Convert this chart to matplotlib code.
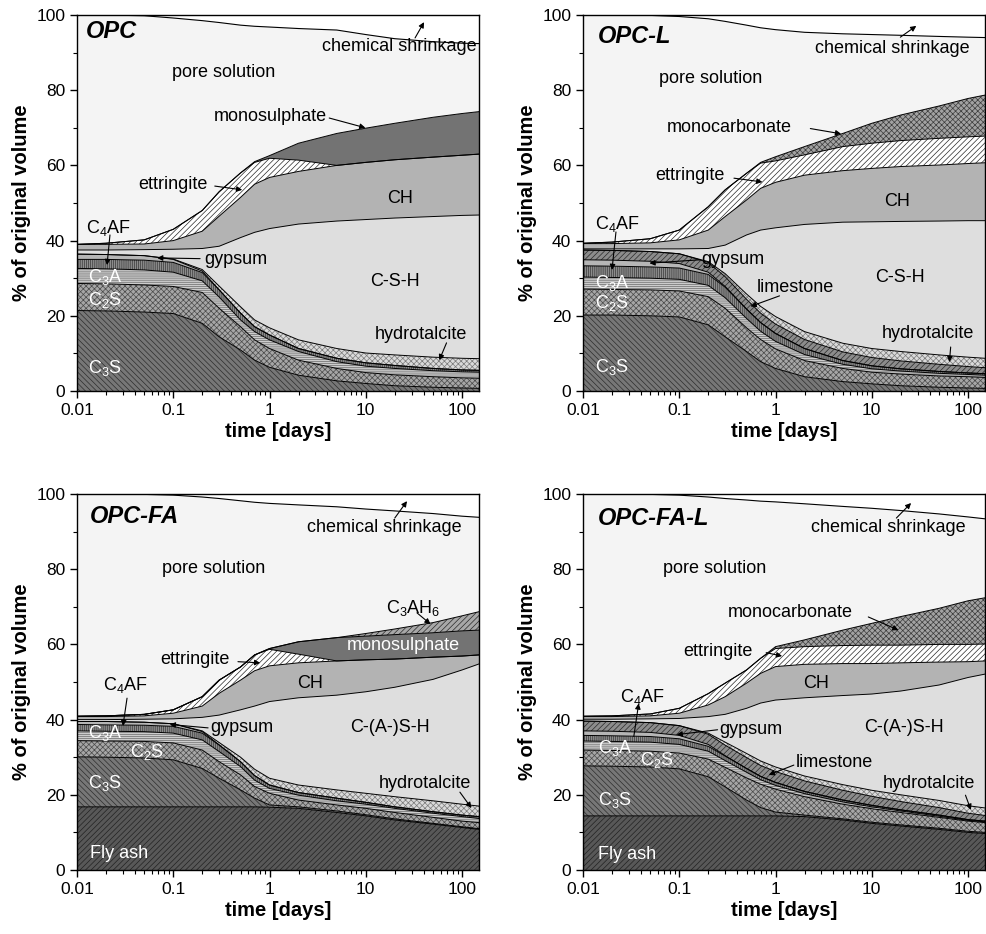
import numpy as np
import matplotlib
matplotlib.use("Agg")
import matplotlib.pyplot as plt
from matplotlib.ticker import FuncFormatter, LogLocator, MultipleLocator, NullFormatter

plt.rcParams['font.family'] = ['Liberation Sans', 'DejaVu Sans']
plt.rcParams['mathtext.fontset'] = 'custom'
plt.rcParams['mathtext.rm'] = 'Liberation Sans'
plt.rcParams['mathtext.it'] = 'Liberation Sans:italic'
plt.rcParams['mathtext.bf'] = 'Liberation Sans:bold'
plt.rcParams['hatch.linewidth'] = 0.5

# hydration time (days) at which the phase boundaries were read
time_days = [0.01, 0.02, 0.05, 0.1, 0.2, 0.3, 0.5, 0.7, 1, 2, 5, 10, 20, 50, 100, 150]

# upper edge of each phase in the stack, % of original volume
# --- OPC
opc_c3s = [21.4, 21.3, 21.0, 20.6, 18.0, 14.4, 10.9, 8.2, 6.3, 4.2, 2.7, 2.0, 1.4, 1.0, 0.8, 0.7]
opc_c2s = [28.6, 28.5, 28.2, 27.8, 26.2, 22.0, 17.1, 13.6, 11.3, 8.2, 6.0, 4.9, 4.3, 3.8, 3.5, 3.4]
opc_c3a = [32.6, 32.5, 32.2, 31.6, 29.3, 25.0, 18.9, 15.8, 13.6, 10.5, 7.8, 6.6, 6.0, 5.4, 5.1, 5.0]
opc_c4af = [35.0, 35.0, 34.8, 34.2, 31.5, 26.9, 20.7, 17.1, 14.9, 11.3, 8.7, 7.5, 6.8, 6.0, 5.6, 5.5]
opc_gypsum = [36.4, 36.3, 36.0, 35.0, 31.9, 26.9, 20.7, 17.1, 14.9, 11.3, 8.7, 7.5, 6.8, 6.0, 5.6, 5.5]
opc_htc = [36.4, 36.3, 36.0, 35.1, 32.3, 27.9, 22.4, 18.9, 16.8, 13.6, 11.3, 10.1, 9.6, 9.0, 8.7, 8.6]
opc_csh = [37.5, 37.5, 37.6, 37.7, 37.9, 38.5, 40.8, 42.2, 43.2, 44.4, 45.2, 45.6, 46.0, 46.4, 46.7, 46.8]
opc_ch = [39.0, 39.0, 39.1, 40.0, 42.5, 46.5, 51.5, 55.0, 56.8, 58.4, 60.0, 60.8, 61.5, 62.2, 62.7, 63.0]
opc_ett = [39.0, 39.3, 40.2, 43.0, 48.0, 53.0, 58.0, 60.8, 61.9, 61.4, 60.0, 60.8, 61.5, 62.2, 62.7, 63.0]
opc_ms = [39.0, 39.3, 40.2, 43.0, 48.0, 53.0, 58.0, 61.0, 62.6, 65.9, 68.5, 69.9, 71.2, 72.8, 73.8, 74.3]
opc_pore = [100, 100, 99.8, 99.2, 98.5, 98.0, 97.3, 97.0, 96.8, 96.4, 96.0, 94.8, 93.7, 92.9, 92.5, 92.4]

# --- OPC-L
opcl_c3s = [20.2, 20.2, 20.0, 19.7, 17.6, 14.4, 10.5, 7.8, 6.0, 3.8, 2.5, 1.9, 1.4, 1.0, 0.8, 0.7]
opcl_c2s = [27.1, 27.0, 26.9, 26.6, 25.1, 22.0, 16.8, 13.7, 11.2, 8.1, 6.0, 5.0, 4.5, 4.0, 3.8, 3.6]
opcl_c3a = [30.3, 30.2, 30.0, 29.7, 28.1, 24.8, 19.3, 15.9, 13.2, 9.7, 7.1, 5.9, 5.3, 4.7, 4.4, 4.2]
opcl_c4af = [33.3, 33.2, 33.0, 32.7, 31.0, 27.6, 21.8, 18.2, 15.3, 11.3, 8.1, 6.7, 5.9, 5.2, 4.8, 4.6]
opcl_gypsum = [34.9, 34.8, 34.5, 33.9, 31.6, 27.8, 21.8, 18.2, 15.3, 11.3, 8.1, 6.7, 5.9, 5.2, 4.8, 4.6]
opcl_limestone = [37.5, 37.4, 37.1, 36.5, 34.2, 30.4, 24.4, 20.7, 17.8, 13.7, 10.4, 8.9, 8.0, 7.1, 6.5, 6.2]
opcl_htc = [37.5, 37.4, 37.1, 36.5, 34.4, 31.2, 25.8, 22.5, 19.8, 15.8, 12.7, 11.3, 10.5, 9.6, 9.0, 8.7]
opcl_csh = [37.8, 37.8, 37.8, 37.8, 37.9, 38.8, 41.5, 42.8, 43.4, 44.3, 44.9, 45.0, 45.1, 45.2, 45.3, 45.3]
opcl_ch = [39.2, 39.2, 39.4, 40.2, 42.8, 46.4, 50.8, 53.9, 55.5, 57.4, 58.6, 59.2, 59.7, 60.1, 60.5, 60.7]
opcl_ett = [39.3, 39.6, 40.5, 42.8, 49.0, 53.5, 57.9, 60.6, 61.2, 62.8, 65.0, 65.9, 66.6, 67.2, 67.6, 67.8]
opcl_mc = [39.3, 39.6, 40.5, 42.8, 49.0, 53.5, 57.9, 60.8, 62.3, 65.0, 68.5, 71.2, 73.4, 75.8, 77.8, 78.7]
opcl_pore = [100, 100, 99.9, 99.6, 99.0, 98.3, 97.3, 96.6, 96.1, 95.4, 95.0, 94.8, 94.6, 94.3, 94.1, 94.0]

# --- OPC-FA
opcfa_flyash = [16.8, 16.8, 16.8, 16.8, 16.8, 16.8, 16.8, 16.8, 16.7, 16.4, 15.3, 14.4, 13.3, 12.2, 11.3, 10.8]
opcfa_c3s = [30.1, 30.0, 29.8, 29.3, 27.0, 24.4, 21.3, 19.1, 17.3, 16.8, 15.7, 14.7, 13.6, 12.4, 11.5, 11.0]
opcfa_c2s = [34.4, 34.3, 34.2, 33.8, 31.9, 28.8, 25.3, 22.2, 20.4, 18.6, 17.3, 16.4, 15.3, 14.0, 13.0, 12.6]
opcfa_c3a = [37.0, 36.9, 36.8, 36.4, 34.6, 31.5, 27.5, 23.9, 21.7, 19.9, 18.4, 17.5, 16.4, 15.1, 14.2, 13.7]
opcfa_c4af = [38.7, 38.6, 38.5, 38.2, 36.4, 33.2, 28.8, 25.1, 22.6, 20.6, 19.1, 18.0, 16.8, 15.5, 14.6, 14.2]
opcfa_gypsum = [39.5, 39.5, 39.3, 38.9, 36.8, 33.3, 28.8, 25.1, 22.6, 20.6, 19.1, 18.0, 16.8, 15.5, 14.6, 14.2]
opcfa_htc = [39.5, 39.5, 39.3, 38.9, 37.0, 33.9, 30.0, 26.8, 24.4, 22.6, 21.3, 20.4, 19.5, 18.4, 17.5, 17.0]
opcfa_csh = [40.0, 40.0, 40.1, 40.2, 40.6, 41.2, 42.6, 43.6, 44.8, 45.8, 46.5, 47.4, 48.6, 50.7, 53.2, 54.8]
opcfa_ch = [40.8, 40.8, 41.0, 41.7, 43.6, 47.0, 50.5, 53.0, 54.3, 55.1, 55.6, 55.9, 56.1, 56.6, 56.9, 57.2]
opcfa_ett = [40.9, 41.0, 41.4, 42.6, 46.1, 50.5, 54.0, 57.2, 58.7, 57.4, 55.6, 55.9, 56.1, 56.6, 56.9, 57.2]
opcfa_ms = [40.9, 41.0, 41.4, 42.6, 46.1, 50.5, 54.0, 57.2, 58.9, 60.7, 61.8, 62.2, 62.6, 63.1, 63.6, 63.8]
opcfa_c3ah6 = [40.9, 41.0, 41.4, 42.6, 46.1, 50.5, 54.0, 57.2, 58.9, 60.7, 61.8, 62.9, 64.1, 65.8, 67.6, 68.7]
opcfa_pore = [100, 100, 99.9, 99.7, 99.2, 98.8, 98.2, 97.8, 97.5, 97.1, 96.6, 96.0, 95.5, 94.8, 94.1, 93.8]

# --- OPC-FA-L
opcfal_flyash = [14.4, 14.4, 14.4, 14.4, 14.4, 14.4, 14.4, 14.4, 14.4, 14.2, 13.3, 12.4, 11.7, 10.8, 10.0, 9.7]
opcfal_c3s = [27.7, 27.6, 27.4, 26.9, 24.8, 22.1, 18.6, 16.6, 15.4, 14.6, 13.6, 12.7, 12.0, 11.1, 10.3, 10.0]
opcfal_c2s = [31.9, 31.8, 31.6, 31.1, 29.5, 27.3, 24.5, 22.8, 21.5, 19.5, 17.5, 16.3, 15.3, 14.0, 13.0, 12.6]
opcfal_c3a = [34.3, 34.2, 34.0, 33.4, 31.6, 29.1, 26.0, 24.0, 22.5, 20.3, 18.1, 16.8, 15.7, 14.3, 13.2, 12.8]
opcfal_c4af = [35.8, 35.7, 35.5, 34.9, 32.9, 30.3, 27.0, 24.9, 23.3, 20.9, 18.6, 17.2, 16.0, 14.6, 13.4, 13.0]
opcfal_gypsum = [37.0, 36.9, 36.6, 35.8, 33.4, 30.4, 27.0, 24.9, 23.3, 20.9, 18.6, 17.2, 16.0, 14.6, 13.4, 13.0]
opcfal_limestone = [39.6, 39.5, 39.2, 38.4, 36.1, 33.2, 29.9, 27.8, 26.2, 23.7, 21.2, 19.6, 18.2, 16.6, 15.1, 14.5]
opcfal_htc = [39.6, 39.5, 39.2, 38.4, 36.4, 34.0, 31.0, 29.0, 27.4, 25.0, 22.7, 21.2, 20.0, 18.5, 17.1, 16.5]
opcfal_csh = [40.1, 40.1, 40.2, 40.3, 40.8, 41.4, 43.0, 44.4, 45.2, 45.8, 46.4, 46.8, 47.6, 49.2, 51.2, 52.1]
opcfal_ch = [40.8, 40.8, 41.0, 41.7, 43.9, 46.1, 49.7, 52.3, 54.1, 54.7, 54.9, 54.9, 55.1, 55.3, 55.4, 55.6]
opcfal_ett = [40.9, 41.0, 41.5, 43.0, 46.9, 49.7, 53.2, 56.3, 58.9, 59.4, 59.7, 59.8, 59.8, 60.0, 60.0, 60.1]
opcfal_mc = [40.9, 41.0, 41.5, 43.0, 46.9, 49.7, 53.2, 56.3, 59.4, 61.2, 63.8, 65.6, 67.4, 69.6, 71.6, 72.4]
opcfal_pore = [100, 100, 99.9, 99.7, 99.2, 98.8, 98.4, 98.1, 97.9, 97.4, 96.7, 96.2, 95.6, 94.7, 93.9, 93.4]

# face colour, hatch, hatch colour
STYLE = {
    'flyash': ('#585858', '//////', '#222222'),
    'c3s': ('#777777', '\\\\\\\\\\\\', '#2e2e2e'),
    'c2s': ('#a6a6a6', 'xxxxxx', '#4a4a4a'),
    'c3a': ('#cccccc', '--------', '#6a6a6a'),
    'c4af': ('#8c8c8c', '||||||||', '#383838'),
    'gypsum': ('#b6b6b6', None, None),
    'limestone': ('#8c8c8c', '//////', '#2a2a2a'),
    'htc': ('#dadada', 'xxxxxx', '#7a7a7a'),
    'csh': ('#dedede', None, None),
    'ch': ('#b3b3b3', None, None),
    'ett': ('#ffffff', '//////', '#2a2a2a'),
    'ms': ('#737373', None, None),
    'mc': ('#a2a2a2', 'xxxxxx', '#3c3c3c'),
    'c3ah6': ('#a8a8a8', '//////', '#2a2a2a'),
}
PORE = '#f4f4f4'


def draw_panel(ax, title, layers, pore, texts, arrows):
    t = np.array(time_days)
    lower = np.zeros(len(t))
    for phase, top in layers:
        top = np.array(top, dtype=float)
        face, hatch, hc = STYLE[phase]
        if hatch:
            ax.fill_between(t, lower, top, facecolor=face, hatch=hatch,
                            edgecolor=hc, linewidth=0, zorder=1)
        else:
            ax.fill_between(t, lower, top, facecolor=face, linewidth=0, zorder=1)
        ax.plot(t, top, color='black', lw=0.7, zorder=3)
        lower = top
    ax.fill_between(t, lower, pore, facecolor=PORE, linewidth=0, zorder=1)
    ax.plot(t, pore, color='black', lw=0.8, zorder=3)

    ax.set_xscale('log')
    ax.set_xlim(0.01, 150)
    ax.set_ylim(0, 100)
    ax.xaxis.set_major_locator(LogLocator(base=10, numticks=10))
    ax.xaxis.set_minor_locator(LogLocator(base=10, subs=np.arange(2, 10), numticks=20))
    ax.xaxis.set_major_formatter(FuncFormatter(lambda v, p: '{:g}'.format(v)))
    ax.xaxis.set_minor_formatter(NullFormatter())
    ax.yaxis.set_major_locator(MultipleLocator(20))
    ax.yaxis.set_minor_locator(MultipleLocator(10))
    ax.tick_params(which='major', direction='out', length=5, width=1, labelsize=12.5)
    ax.tick_params(which='minor', direction='out', length=3, width=0.8)
    for s in ax.spines.values():
        s.set_linewidth(1.0)
        s.set_zorder(5)
    ax.set_xlabel('time [days]', fontsize=14.5, fontweight='bold', labelpad=3)
    ax.set_ylabel('% of original volume', fontsize=14.5, fontweight='bold', labelpad=4)

    ax.text(title[1], title[2], title[0], fontsize=17, fontweight='bold',
            style='italic', ha='left', va='center', zorder=6)
    for txt, x, y, ha, col in texts:
        ax.text(x, y, txt, fontsize=13, ha=ha, va='center', color=col, zorder=6)
    for (x0, y0), (x1, y1) in arrows:
        ax.annotate('', xy=(x1, y1), xytext=(x0, y0), zorder=6,
                    arrowprops=dict(arrowstyle='-|>', color='black', lw=0.8,
                                    mutation_scale=8, shrinkA=0, shrinkB=0))


fig = plt.figure(figsize=(9.87, 9.34), dpi=100)
W, H = 987.0, 934.0


def add_axes(left, top, right, bottom):
    return fig.add_axes([left / W, (H - bottom) / H, (right - left) / W, (bottom - top) / H])


ax1 = add_axes(77, 15, 479, 391)
ax2 = add_axes(583, 15, 985, 391)
ax3 = add_axes(77, 494, 479, 870)
ax4 = add_axes(583, 494, 985, 870)

K, Wt = 'black', 'white'

draw_panel(
    ax1, ('OPC', 0.0125, 95.5),
    [('c3s', opc_c3s), ('c2s', opc_c2s), ('c3a', opc_c3a), ('c4af', opc_c4af),
     ('gypsum', opc_gypsum), ('htc', opc_htc), ('csh', opc_csh), ('ch', opc_ch),
     ('ett', opc_ett), ('ms', opc_ms)],
    opc_pore,
    [('chemical shrinkage', 3.5, 91.5, 'left', K),
     ('pore solution', 0.097, 84.6, 'left', K),
     ('monosulphate', 0.265, 72.9, 'left', K),
     ('ettringite', 0.043, 54.8, 'left', K),
     ('CH', 22.9, 51.3, 'center', K),
     ('C$_4$AF', 0.0124, 43.4, 'left', K),
     ('gypsum', 0.209, 35.1, 'left', K),
     ('C-S-H', 20.1, 29.0, 'center', K),
     ('C$_3$A', 0.013, 30.3, 'left', Wt),
     ('C$_2$S', 0.013, 24.2, 'left', Wt),
     ('C$_3$S', 0.013, 6.1, 'left', Wt),
     ('hydrotalcite', 12.5, 14.9, 'left', K)],
    [((32.5, 93.9), (40.3, 98.1)),
     ((4.17, 72.6), (9.9, 70.0)),
     ((0.27, 54.5), (0.52, 53.5)),
     ((0.022, 41.5), (0.0205, 33.5)),
     ((0.19, 35.2), (0.068, 35.4)),
     ((69, 12.8), (58, 8.2))])

draw_panel(
    ax2, ('OPC-L', 0.0143, 94.4),
    [('c3s', opcl_c3s), ('c2s', opcl_c2s), ('c3a', opcl_c3a), ('c4af', opcl_c4af),
     ('gypsum', opcl_gypsum), ('limestone', opcl_limestone), ('htc', opcl_htc),
     ('csh', opcl_csh), ('ch', opcl_ch), ('ett', opcl_ett), ('mc', opcl_mc)],
    opcl_pore,
    [('chemical shrinkage', 2.56, 91.2, 'left', K),
     ('pore solution', 0.061, 83.0, 'left', K),
     ('monocarbonate', 0.074, 70.0, 'left', K),
     ('ettringite', 0.056, 57.4, 'left', K),
     ('CH', 18.5, 50.3, 'center', K),
     ('C$_4$AF', 0.0133, 44.4, 'left', K),
     ('gypsum', 0.17, 35.1, 'left', K),
     ('limestone', 0.64, 27.4, 'left', K),
     ('C-S-H', 19.7, 30.1, 'center', K),
     ('C$_3$A', 0.0133, 28.7, 'left', Wt),
     ('C$_2$S', 0.0133, 23.4, 'left', Wt),
     ('C$_3$S', 0.0133, 6.4, 'left', Wt),
     ('hydrotalcite', 12.6, 15.4, 'left', K)],
    [((19.8, 94.1), (29, 97.1)),
     ((2.3, 69.8), (4.8, 68.4)),
     ((0.37, 56.6), (0.73, 55.6)),
     ((0.022, 42.3), (0.02, 32.2)),
     ((0.165, 34.9), (0.049, 34.0)),
     ((1.1, 25.3), (0.55, 22.5)),
     ((66, 11.7), (64, 7.7))])

draw_panel(
    ax3, ('OPC-FA', 0.0136, 94.1),
    [('flyash', opcfa_flyash), ('c3s', opcfa_c3s), ('c2s', opcfa_c2s), ('c3a', opcfa_c3a),
     ('c4af', opcfa_c4af), ('gypsum', opcfa_gypsum), ('htc', opcfa_htc), ('csh', opcfa_csh),
     ('ch', opcfa_ch), ('ett', opcfa_ett), ('ms', opcfa_ms), ('c3ah6', opcfa_c3ah6)],
    opcfa_pore,
    [('chemical shrinkage', 2.45, 91.2, 'left', K),
     ('pore solution', 0.076, 80.3, 'left', K),
     ('C$_3$AH$_6$', 16.3, 69.7, 'left', K),
     ('monosulphate', 6.4, 59.6, 'left', Wt),
     ('ettringite', 0.073, 55.9, 'left', K),
     ('CH', 2.63, 49.5, 'center', K),
     ('C$_4$AF', 0.0186, 49.2, 'left', K),
     ('gypsum', 0.24, 37.8, 'left', K),
     ('C-(A-)S-H', 17.8, 37.8, 'center', K),
     ('C$_3$A', 0.013, 36.4, 'left', Wt),
     ('C$_2$S', 0.0355, 31.4, 'left', Wt),
     ('C$_3$S', 0.013, 23.1, 'left', Wt),
     ('Fly ash', 0.0136, 4.5, 'left', Wt),
     ('hydrotalcite', 13.5, 22.9, 'left', K)],
    [((20, 93.6), (26.8, 98.1)),
     ((34, 68.4), (47, 65.4)),
     ((0.47, 55.4), (0.8, 55.1)),
     ((0.0331, 45.7), (0.030, 38.3)),
     ((0.23, 37.8), (0.092, 38.7)),
     ((95, 20.7), (125, 16.5))])

draw_panel(
    ax4, ('OPC-FA-L', 0.0143, 93.6),
    [('flyash', opcfal_flyash), ('c3s', opcfal_c3s), ('c2s', opcfal_c2s), ('c3a', opcfal_c3a),
     ('c4af', opcfal_c4af), ('gypsum', opcfal_gypsum), ('limestone', opcfal_limestone),
     ('htc', opcfal_htc), ('csh', opcfal_csh), ('ch', opcfal_ch), ('ett', opcfal_ett),
     ('mc', opcfal_mc)],
    opcfal_pore,
    [('chemical shrinkage', 2.33, 91.0, 'left', K),
     ('pore solution', 0.067, 80.3, 'left', K),
     ('monocarbonate', 0.32, 68.4, 'left', K),
     ('ettringite', 0.11, 58.0, 'left', K),
     ('CH', 2.62, 49.7, 'center', K),
     ('C$_4$AF', 0.024, 46.0, 'left', K),
     ('gypsum', 0.26, 37.5, 'left', K),
     ('C-(A-)S-H', 21.6, 37.8, 'center', K),
     ('limestone', 1.64, 28.7, 'left', K),
     ('hydrotalcite', 13.0, 22.9, 'left', K),
     ('C$_3$A', 0.0143, 32.4, 'left', Wt),
     ('C$_2$S', 0.0388, 29.3, 'left', Wt),
     ('C$_3$S', 0.0143, 18.6, 'left', Wt),
     ('Fly ash', 0.0143, 4.0, 'left', Wt)],
    [((18, 93.6), (25.6, 97.6)),
     ((9.2, 67.3), (18.9, 63.8)),
     ((0.80, 57.8), (1.17, 56.9)),
     ((0.0337, 35.5), (0.0379, 44.3)),
     ((0.25, 37.3), (0.094, 36.0)),
     ((1.55, 27.9), (0.85, 25.3)),
     ((94, 19.9), (107, 16.0))])

fig.savefig('out.png', dpi=100)
